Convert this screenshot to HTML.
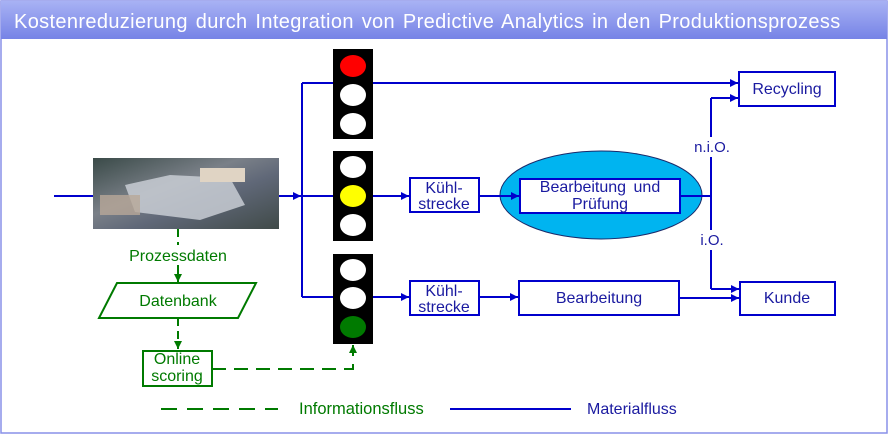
<!DOCTYPE html>
<html><head><meta charset="utf-8"><style>
body{margin:0;width:889px;height:439px;overflow:hidden;background:#fff;font-family:"Liberation Sans",sans-serif}
</style></head><body>
<svg width="889" height="439" viewBox="0 0 889 439" xmlns="http://www.w3.org/2000/svg" font-family="Liberation Sans, sans-serif">
<defs>
<linearGradient id="hd" x1="0" y1="0" x2="0" y2="1"><stop offset="0" stop-color="#a8b2f4"/><stop offset="1" stop-color="#7683e6"/></linearGradient>
<linearGradient id="ph" x1="0" y1="0" x2="1" y2="1"><stop offset="0" stop-color="#3a4a48"/><stop offset="0.4" stop-color="#7a8088"/><stop offset="0.6" stop-color="#606878"/><stop offset="1" stop-color="#404a48"/></linearGradient>
<marker id="ab" viewBox="0 0 10 10" refX="10" refY="5" markerWidth="10" markerHeight="8" markerUnits="userSpaceOnUse" orient="auto"><path d="M0,0L10,5L0,10z" fill="#0000cc"/></marker>
<marker id="ag" viewBox="0 0 10 10" refX="10" refY="5" markerWidth="10" markerHeight="8" markerUnits="userSpaceOnUse" orient="auto"><path d="M0,0L10,5L0,10z" fill="#007a00"/></marker>
</defs>
<rect x="1" y="1" width="886" height="432" fill="#fff" stroke="#8890e8" stroke-width="1.5"/>
<rect x="1" y="1" width="886" height="38" fill="url(#hd)"/>
<text x="14" y="28" font-size="20" fill="#fff" letter-spacing="0.35" word-spacing="2">Kostenreduzierung  durch  Integration  von  Predictive  Analytics  in  den  Produktionsprozess</text>

<g stroke="#0000cc" stroke-width="2" fill="none">
<line x1="54" y1="196" x2="93" y2="196"/>
<line x1="279" y1="196" x2="301" y2="196" marker-end="url(#ab)"/>
<line x1="302" y1="83" x2="302" y2="297"/>
<line x1="302" y1="83" x2="333" y2="83"/>
<line x1="302" y1="196" x2="333" y2="196"/>
<line x1="302" y1="297" x2="333" y2="297"/>
<line x1="373" y1="83" x2="738" y2="83" marker-end="url(#ab)"/>
<line x1="373" y1="196" x2="409" y2="196" marker-end="url(#ab)"/>
<line x1="373" y1="297" x2="409" y2="297" marker-end="url(#ab)"/>
</g>
<ellipse cx="601" cy="195" rx="101" ry="44" fill="#00b4f0" stroke="#1a2a6a" stroke-width="1"/>
<g stroke="#0000cc" stroke-width="2" fill="none">
<line x1="479" y1="196" x2="519" y2="196" marker-end="url(#ab)"/>
<line x1="479" y1="297" x2="518" y2="297" marker-end="url(#ab)"/>
<line x1="680" y1="196" x2="711" y2="196"/>
<line x1="711" y1="98" x2="711" y2="137"/>
<line x1="711" y1="157" x2="711" y2="230"/>
<line x1="711" y1="250" x2="711" y2="289"/>
<line x1="711" y1="98" x2="738" y2="98" marker-end="url(#ab)"/>
<line x1="711" y1="289" x2="739" y2="289" marker-end="url(#ab)"/>
<line x1="679" y1="298" x2="739" y2="298" marker-end="url(#ab)"/>
<rect x="739" y="72" width="96" height="34" fill="#fff"/>
<rect x="410" y="178" width="69" height="34" fill="#fff"/>
<rect x="410" y="281" width="69" height="34" fill="#fff"/>
<rect x="520" y="179" width="160" height="34" fill="#fff"/>
<rect x="519" y="281" width="160" height="34" fill="#fff"/>
<rect x="740" y="282" width="95" height="33" fill="#fff"/>
</g>
<g fill="#1a1aa0" font-size="16" text-anchor="middle">
<text x="787" y="94">Recycling</text>
<text x="444" y="193">Kühl-</text><text x="444" y="209">strecke</text>
<text x="444" y="296">Kühl-</text><text x="444" y="312">strecke</text>
<text x="600" y="192" word-spacing="3">Bearbeitung und</text><text x="600" y="209">Prüfung</text>
<text x="599" y="303">Bearbeitung</text>
<text x="787" y="303">Kunde</text>
<text x="712" y="152" font-size="15">n.i.O.</text>
<text x="712" y="245" font-size="15">i.O.</text>
</g>

<rect x="333" y="49" width="40" height="90" fill="#000"/>
<ellipse cx="353" cy="66" rx="13" ry="11" fill="#f00"/>
<ellipse cx="353" cy="95" rx="13" ry="11" fill="#fff"/>
<ellipse cx="353" cy="124" rx="13" ry="11" fill="#fff"/>
<rect x="333" y="151" width="40" height="90" fill="#000"/>
<ellipse cx="353" cy="167" rx="13" ry="11" fill="#fff"/>
<ellipse cx="353" cy="196" rx="13" ry="11" fill="#ff0"/>
<ellipse cx="353" cy="225" rx="13" ry="11" fill="#fff"/>
<rect x="333" y="254" width="40" height="90" fill="#000"/>
<ellipse cx="353" cy="270" rx="13" ry="11" fill="#fff"/>
<ellipse cx="353" cy="298" rx="13" ry="11" fill="#fff"/>
<ellipse cx="353" cy="327" rx="13" ry="11" fill="#007a00"/>

<rect x="93" y="158" width="186" height="71" fill="url(#ph)"/>
<path d="M125,185 L170,175 L230,178 L245,205 L200,220 L135,212z" fill="#c8ccd4" opacity="0.85"/>
<rect x="200" y="168" width="45" height="14" fill="#e0d4c4"/>
<rect x="100" y="195" width="40" height="20" fill="#b8a898" opacity="0.8"/>

<g stroke="#007a00" stroke-width="2" fill="none">
<line x1="178" y1="229" x2="178" y2="245" stroke-dasharray="8,5"/>
<line x1="178" y1="265" x2="178" y2="282" marker-end="url(#ag)"/>
<polygon points="117,283 256,283 238,318 99,318"/>
<line x1="178" y1="318" x2="178" y2="349" stroke-dasharray="8,5" marker-end="url(#ag)"/>
<rect x="143" y="351" width="69" height="35" fill="#fff"/>
<polyline points="212,369 353,369 353,346" stroke-dasharray="14,8"/>
<line x1="353" y1="356" x2="353" y2="345" marker-end="url(#ag)"/>
<line x1="161" y1="409" x2="278" y2="409" stroke-dasharray="16,10"/>
</g>
<line x1="450" y1="409" x2="571" y2="409" stroke="#0000cc" stroke-width="2"/>
<g fill="#007a00" font-size="16" text-anchor="middle">
<text x="178" y="261">Prozessdaten</text>
<text x="178" y="306">Datenbank</text>
<text x="177" y="364">Online</text><text x="177" y="381">scoring</text>
<text x="299" y="414" text-anchor="start" font-size="16.5">Informationsfluss</text>
</g>
<text x="587" y="414" font-size="16" fill="#1a1aa0">Materialfluss</text>
</svg>
</body></html>
